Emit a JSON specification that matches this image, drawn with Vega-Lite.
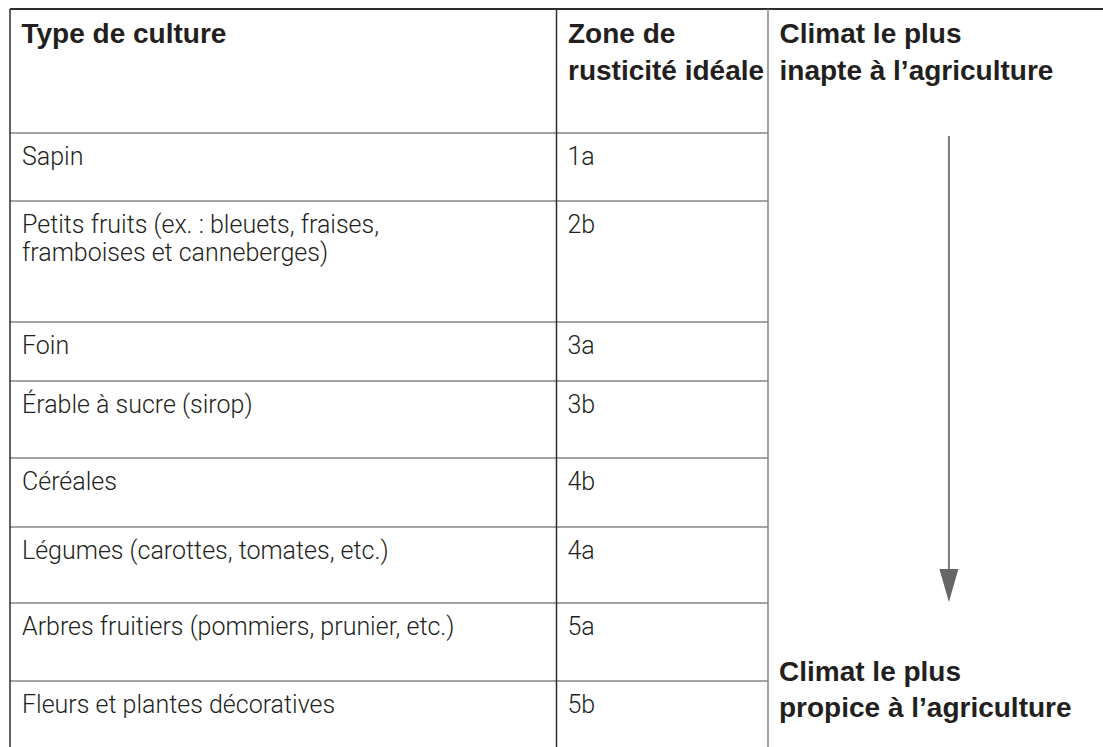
{
  "$schema": "https://vega.github.io/schema/vega-lite/v6.json",
  "width": 1103,
  "height": 747,
  "autosize": {"type": "fit", "contains": "padding"},
  "padding": 0,
  "background": "white",
  "config": {"view": {"stroke": null}},
  "datasets": {
    "lignes": [
      {"rang": 1, "culture": "Sapin", "zone": "1a"},
      {"rang": 2, "culture": "Petits fruits (ex. : bleuets, fraises,\nframboises et canneberges)", "zone": "2b"},
      {"rang": 3, "culture": "Foin", "zone": "3a"},
      {"rang": 4, "culture": "Érable à sucre (sirop)", "zone": "3b"},
      {"rang": 5, "culture": "Céréales", "zone": "4b"},
      {"rang": 6, "culture": "Légumes (carottes, tomates, etc.)", "zone": "4a"},
      {"rang": 7, "culture": "Arbres fruitiers (pommiers, prunier, etc.)", "zone": "5a"},
      {"rang": 8, "culture": "Fleurs et plantes décoratives", "zone": "5b"}
    ],
    "colonnes": [
      {"colonne": 0, "titre": "Type de culture"},
      {"colonne": 1, "titre": "Zone de\nrusticité idéale"},
      {"colonne": 2, "titre": "Climat le plus\ninapte à l’agriculture"}
    ],
    "bas": [
      {"titre": "Climat le plus\npropice à l’agriculture"}
    ]
  },
  "layer": [
    {
      "data": {"name": "lignes"},
      "mark": {"type": "rule", "stroke": "#858585", "strokeWidth": 1.5},
      "encoding": {
        "y": {"field": "rang", "type": "quantitative", "axis": null,
              "scale": {"domain": [0, 1, 2, 3, 4, 5, 6, 7, 8, 9], "range": [9, 133, 201, 322, 381, 458, 527, 603, 681, 759], "zero": false, "nice": false}},
        "x": {"datum": 0, "type": "quantitative", "axis": null,
              "scale": {"domain": [0, 1, 2, 3], "range": [10, 556.5, 768, 1103], "zero": false, "nice": false}},
        "x2": {"datum": 2}
      }
    },
    {
      "data": {"values": [{"bordure": "haut"}]},
      "mark": {"type": "rule", "stroke": "#2e2e2e", "strokeWidth": 2},
      "encoding": {
        "y": {"datum": 0, "type": "quantitative", "axis": null},
        "x": {"datum": 0, "type": "quantitative", "axis": null},
        "x2": {"datum": 3}
      }
    },
    {
      "data": {"name": "colonnes"},
      "mark": {"type": "rule", "strokeWidth": 1.5},
      "encoding": {
        "x": {"field": "colonne", "type": "quantitative", "axis": null},
        "y": {"datum": 0, "type": "quantitative", "axis": null},
        "y2": {"datum": 9},
        "stroke": {"field": "colonne", "type": "nominal", "legend": null,
                   "scale": {"domain": [0, 1, 2], "range": ["#2e2e2e", "#2e2e2e", "#858585"]}}
      }
    },
    {
      "data": {"name": "colonnes"},
      "mark": {"type": "text", "align": "left", "baseline": "alphabetic", "dx": 11.5, "dy": 34,
               "font": "Liberation Sans", "fontWeight": "bold", "fontSize": 28, "lineHeight": 37,
               "lineBreak": "\n", "fill": "#231f20"},
      "encoding": {
        "x": {"field": "colonne", "type": "quantitative", "axis": null},
        "y": {"datum": 0, "type": "quantitative", "axis": null},
        "text": {"field": "titre", "type": "nominal"}
      }
    },
    {
      "data": {"name": "lignes"},
      "mark": {"type": "text", "align": "left", "baseline": "alphabetic", "dx": 12, "dy": 32,
               "font": "Roboto", "fontWeight": 300, "fontSize": 25, "lineHeight": 28,
               "lineBreak": "\n", "fill": "#231f20"},
      "encoding": {
        "x": {"datum": 0, "type": "quantitative", "axis": null},
        "y": {"field": "rang", "type": "quantitative", "axis": null},
        "text": {"field": "culture", "type": "nominal"}
      }
    },
    {
      "data": {"name": "lignes"},
      "mark": {"type": "text", "align": "left", "baseline": "alphabetic", "dx": 11, "dy": 32,
               "font": "Roboto", "fontWeight": 300, "fontSize": 25, "lineHeight": 28,
               "lineBreak": "\n", "fill": "#231f20"},
      "encoding": {
        "x": {"datum": 1, "type": "quantitative", "axis": null},
        "y": {"field": "rang", "type": "quantitative", "axis": null},
        "text": {"field": "zone", "type": "nominal"}
      }
    },
    {
      "data": {"name": "bas"},
      "mark": {"type": "rule", "stroke": "#7a7a7a", "strokeWidth": 2},
      "encoding": {
        "x": {"datum": 2.54, "type": "quantitative", "axis": null},
        "y": {"datum": 1.044, "type": "quantitative", "axis": null},
        "y2": {"datum": 6.57}
      }
    },
    {
      "data": {"name": "bas"},
      "mark": {"type": "point", "shape": "M-0.576,-1L0.576,-1L0,1Z", "filled": true, "fill": "#666666", "opacity": 1, "size": 1089, "strokeWidth": 0},
      "encoding": {
        "x": {"datum": 2.54, "type": "quantitative", "axis": null},
        "y": {"datum": 6.77, "type": "quantitative", "axis": null}
      }
    },
    {
      "data": {"name": "bas"},
      "mark": {"type": "text", "align": "left", "baseline": "alphabetic", "dx": 11, "dy": 0,
               "font": "Liberation Sans", "fontWeight": "bold", "fontSize": 28, "lineHeight": 36,
               "lineBreak": "\n", "fill": "#231f20"},
      "encoding": {
        "x": {"datum": 2, "type": "quantitative", "axis": null},
        "y": {"datum": 8, "type": "quantitative", "axis": null},
        "text": {"field": "titre", "type": "nominal"}
      }
    }
  ]
}
